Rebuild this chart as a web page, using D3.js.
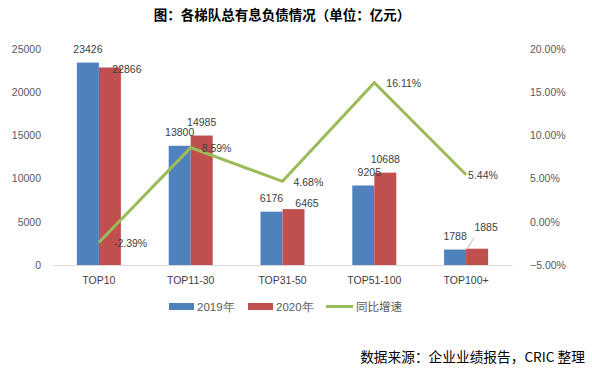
<!DOCTYPE html>
<html><head><meta charset="utf-8">
<script src="https://cdn.jsdelivr.net/npm/d3@7"></script>
<style>
html,body{margin:0;padding:0;background:#fff;}
svg{display:block;}
</style></head>
<body>
<script>
const categories = ["TOP10","TOP11-30","TOP31-50","TOP51-100","TOP100+"];
const values2019 = [23426,13800,6176,9205,1788];
const values2020 = [22866,14985,6465,10688,1885];
const growth = [-0.0239,0.0859,0.0468,0.1611,0.0544];
const growthLabels = ["-2.39%","8.59%","4.68%","16.11%","5.44%"];
const leftTicks = [0,5000,10000,15000,20000,25000];
const rightTicks = [-0.05,0,0.05,0.10,0.15,0.20];
const seriesNames = ["2019年","2020年","同比增速"];
const colors = ["#4F81BD","#C0504D","#9BBB59"];

const W = 592, H = 376;
const svg = d3.select("body").append("svg").attr("width",W).attr("height",H);
const font = "'Liberation Sans', Arial, sans-serif";
const cjk = "'Noto Sans CJK SC', sans-serif";

const x = d3.scaleBand().domain(categories).range([53,512]).padding(0);
const yL = d3.scaleLinear().domain([0,25000]).range([265,49]);
const yR = d3.scaleLinear().domain([-0.05,0.20]).range([265,49]);
const bw = 22;

// title
svg.append("text").attr("x",282).attr("y",20).attr("text-anchor","middle")
  .attr("font-family",cjk).attr("font-weight","bold").attr("font-size",13.5).attr("fill","#000")
  .text("图：各梯队总有息负债情况（单位：亿元）");

// left axis
const gL = svg.append("g").attr("transform","translate(41,0)")
  .call(d3.axisLeft(yL).tickValues(leftTicks).tickSize(0).tickPadding(0).tickFormat(d3.format("d")));
gL.select(".domain").remove();
gL.selectAll("text").attr("font-family",font).attr("font-size",10.5).attr("fill","#595959");

// right axis
const gR = svg.append("g").attr("transform","translate(530,0)")
  .call(d3.axisRight(yR).tickValues(rightTicks).tickSize(0).tickPadding(0).tickFormat(d3.format(".2%")));
gR.select(".domain").remove();
gR.selectAll("text").attr("font-family",font).attr("font-size",10.5).attr("fill","#595959");

// bars
const g = svg.append("g");
categories.forEach((c,i)=>{
  const cx = x(c) + x.bandwidth()/2;
  g.append("rect").attr("x",cx-bw).attr("y",yL(values2019[i])).attr("width",bw)
    .attr("height",yL(0)-yL(values2019[i])).attr("fill",colors[0]);
  g.append("rect").attr("x",cx).attr("y",yL(values2020[i])).attr("width",bw)
    .attr("height",yL(0)-yL(values2020[i])).attr("fill",colors[1]);
});

// bottom axis
const gX = svg.append("g").attr("transform","translate(0,265)")
  .call(d3.axisBottom(x).tickSize(0).tickPadding(12));
gX.select(".domain").attr("stroke","#d9d9d9");
gX.selectAll("text").attr("font-family",font).attr("font-size",10.5).attr("fill","#404040");

// line
const line = d3.line().x((d,i)=>x(categories[i])+x.bandwidth()/2).y(d=>yR(d));
svg.append("path").datum(growth).attr("d",line).attr("fill","none")
  .attr("stroke",colors[2]).attr("stroke-width",3).attr("stroke-linejoin","miter");

// bar labels (label adjustments)
const off19 = [[0,0],[0,0],[0,0],[6,0],[0,0]];
const off20 = [[17,14.6],[0,0],[13.5,7],[0,0],[9,-8]];
categories.forEach((c,i)=>{
  const cx = x(c) + x.bandwidth()/2;
  svg.append("text").attr("x",cx-bw/2+off19[i][0]).attr("y",yL(values2019[i])-13+off19[i][1])
    .attr("dy","0.35em").attr("text-anchor","middle").attr("font-family",font).attr("font-size",10.5)
    .attr("fill","#404040").text(values2019[i]);
  svg.append("text").attr("x",cx+bw/2+off20[i][0]).attr("y",yL(values2020[i])-13+off20[i][1])
    .attr("dy","0.35em").attr("text-anchor","middle").attr("font-family",font).attr("font-size",10.5)
    .attr("fill","#404040").text(values2020[i]);
  if(i===4){
    svg.append("line").attr("x1",cx+1).attr("y1",yL(values2020[i])).attr("x2",cx+8).attr("y2",yL(values2020[i])-11)
      .attr("stroke","#a6a6a6").attr("stroke-width",0.8);
  }
});

// growth labels
const gdx = [15,11,11,12,2];
const gdy = [1,1,1,1,1];
growth.forEach((v,i)=>{
  const px = x(categories[i])+x.bandwidth()/2;
  svg.append("text").attr("x",px+gdx[i]).attr("y",yR(v)+gdy[i]).attr("dy","0.35em")
    .attr("font-family",font).attr("font-size",10.5).attr("fill","#404040").text(growthLabels[i]);
});

// legend
const lg = svg.append("g");
const legX = [169,248,326];
seriesNames.forEach((n,i)=>{
  if(i<2){
    lg.append("rect").attr("x",legX[i]).attr("y",303).attr("width",25).attr("height",7).attr("fill",colors[i]);
  } else {
    lg.append("line").attr("x1",legX[i]).attr("x2",legX[i]+27).attr("y1",306.5).attr("y2",306.5)
      .attr("stroke",colors[2]).attr("stroke-width",3);
  }
  lg.append("text").attr("x",legX[i]+(i<2?28:30)).attr("y",306.5).attr("dy","0.35em")
    .attr("font-family",i<2?font:cjk).attr("font-size",11.5).attr("fill","#595959").text(n);
});

// source
svg.append("text").attr("x",585).attr("y",357).attr("dy","0.35em").attr("text-anchor","end")
  .attr("font-family",cjk).attr("font-size",13.7).attr("fill","#000")
  .text("数据来源：企业业绩报告，CRIC 整理");
</script>
</body></html>
